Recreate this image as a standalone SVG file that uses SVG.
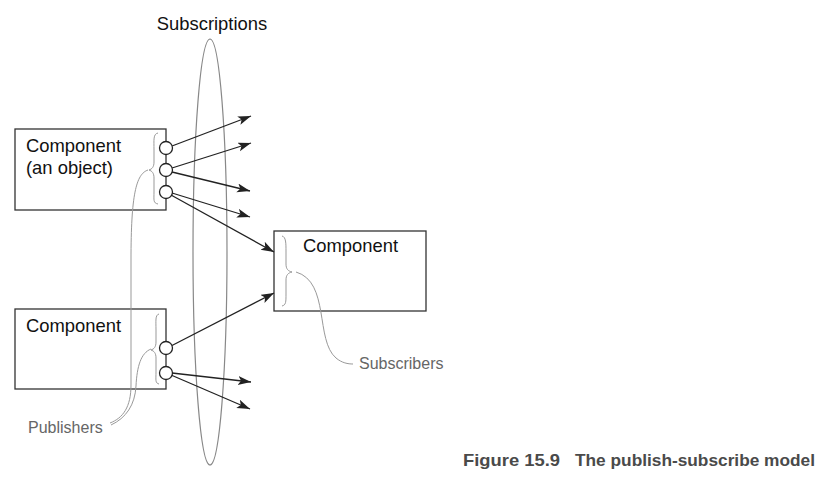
<svg xmlns="http://www.w3.org/2000/svg" width="828" height="487" viewBox="0 0 828 487">
<style>
.box{fill:#fff;stroke:#333;stroke-width:1.3}
.port{fill:#fff;stroke:#222;stroke-width:1.3}
.lbl{font-family:"Liberation Sans",Arial,sans-serif;font-size:18.4px;fill:#111}
.glbl{font-family:"Liberation Sans",Arial,sans-serif;font-size:16px;fill:#666}
.arr{stroke:#222;stroke-width:1.3;fill:none;marker-end:url(#ah)}
.thin{stroke:#999;stroke-width:1;fill:none}
.cap{font-family:"Liberation Sans",Arial,sans-serif;font-size:17px;font-weight:bold;fill:#4a4a4a}
</style>
<defs>
<marker id="ah" markerUnits="userSpaceOnUse" markerWidth="14" markerHeight="10" refX="13" refY="4.5" orient="auto">
<path d="M0,0 L13,4.5 L0,9 L3,4.5 Z" fill="#222"/>
</marker>
</defs>
<rect width="828" height="487" fill="#fff"/>
<g id="subscriptions">
<ellipse cx="210" cy="252" rx="17" ry="213" fill="none" stroke="#888" stroke-width="1.2"/>
<text class="lbl" x="212" y="30" text-anchor="middle">Subscriptions</text>
</g>
<g id="component1">
<rect class="box" x="15" y="129" width="151" height="81"/>
<text class="lbl" x="26" y="152">Component</text>
<text class="lbl" x="26" y="174">(an object)</text>
<path class="thin" d="M158,133 C153,134 154,140 154,150 L154,162 C154,167 152,169 149,170 C152,171 154,173 154,178 L154,192 C154,200 153,203 158,204"/>
</g>
<g id="component2">
<rect class="box" x="15" y="309" width="151" height="80"/>
<text class="lbl" x="26" y="332">Component</text>
<path class="thin" d="M159,314 C155,315 156,321 156,330 L156,342 C156,347 154,349 151,350 C154,351 156,353 156,358 L156,372 C156,380 155,383 159,384"/>
</g>
<g id="component3">
<rect class="box" x="274" y="231" width="152" height="80"/>
<text class="lbl" x="303" y="252">Component</text>
<path class="thin" d="M282,236 C286,237 286,243 286,252 L286,264 C286,269 288,271 292,272 C288,273 286,275 286,280 L286,294 C286,302 286,305 282,306"/>
</g>
<g id="connectors">
<line class="arr" x1="172" y1="146" x2="251" y2="116"/>
<line class="arr" x1="172" y1="168" x2="251" y2="143"/>
<line class="arr" x1="172" y1="172" x2="250" y2="191"/>
<line class="arr" x1="172" y1="193" x2="250" y2="217"/>
<line class="arr" x1="171" y1="195" x2="274" y2="252"/>
<line class="arr" x1="171" y1="346" x2="274" y2="293"/>
<line class="arr" x1="172" y1="373" x2="251" y2="382"/>
<line class="arr" x1="171" y1="375" x2="250" y2="409"/>
</g>
<g id="ports">
<circle class="port" cx="166" cy="148" r="6.5"/>
<circle class="port" cx="166" cy="170" r="6.5"/>
<circle class="port" cx="166" cy="192" r="6.5"/>
<circle class="port" cx="166" cy="348" r="6.5"/>
<circle class="port" cx="166" cy="373" r="6.5"/>
</g>
<g id="publishers">
<path class="thin" d="M148,170 C136,174 131,195 131,260 L131,385 C131,407 123,418 110,423"/>
<path class="thin" d="M151,349 C141,353 137,366 136,386 C135,405 126,418 111,425"/>
<text class="glbl" x="28" y="433">Publishers</text>
</g>
<g id="subscribers">
<path class="thin" d="M296,272 C330,282 315,340 336,358 C342,363 348,364 353,364"/>
<text class="glbl" x="359" y="369">Subscribers</text>
</g>
<g id="caption">
<text class="cap" x="463" y="466" textLength="97" lengthAdjust="spacingAndGlyphs">Figure 15.9</text>
<text class="cap" x="575" y="466" textLength="240" lengthAdjust="spacingAndGlyphs">The publish-subscribe model</text>
</g>
</svg>
